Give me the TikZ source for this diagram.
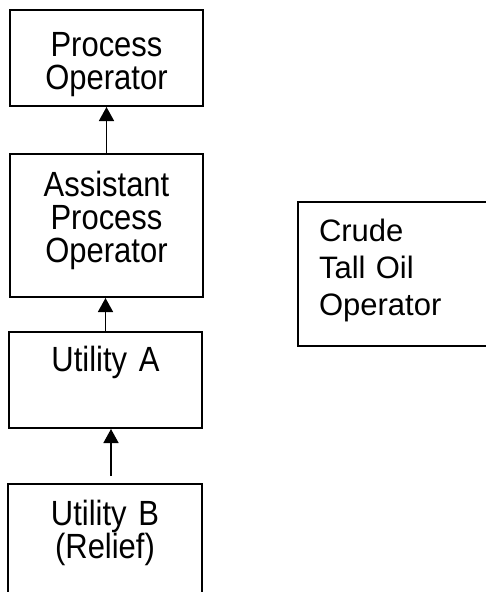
\documentclass[tikz,border=0pt]{standalone}
\usepackage{fontspec}
\setmainfont{Liberation Sans}
\newfontfamily\narrowfont[FakeStretch=0.885]{Liberation Sans}
\usetikzlibrary{arrows.meta}

\begin{document}
\begin{tikzpicture}[x=1pt,y=-1pt,>={Triangle[width=15pt,length=14pt]}]
      \tikzstyle{every node}=[draw,shape=rectangle,line width=2pt,inner sep=0pt];
      \tikzstyle{post}=[text width=193pt,align=center,font=\narrowfont\fontsize{35}{33}\selectfont];
      \useasboundingbox (0,0) rectangle (485,592);

        \path (106.5,58)  node[post,minimum height=96pt,text height=46pt,text depth=50pt] (procop) {Process\\Operator};
        \path (106.5,225.5) node[post,minimum height=143pt,text height=42.7pt,text depth=100.3pt] (asstop) {Assistant\\Process\\Operator};
        \path (105.5,380) node[post,minimum height=96pt,text height=39.7pt,text depth=56.3pt] (utila) {Utility A};
        \path (105,545) node[post,text width=194pt,minimum height=122pt,text height=41pt,text depth=81pt] (utilb) {Utility B\\(Relief)};
        \path (402,274) node[text width=166pt,inner xsep=21pt,align=left,minimum height=144pt,text height=39.7pt,text depth=104.3pt,font=\fontsize{31}{37}\selectfont] (crude) {Crude\\Tall Oil\\Operator};

        \coordinate (utilbtop) at ([xshift=6pt,yshift=7pt]utilb.north);

        \path[->,draw,line width=1.5pt] (asstop.north) -- (procop.south);
        \path[->,draw,line width=1.5pt] (utila.north) -- (utila.north |- asstop.south);
        \path[->,draw,line width=1.5pt] (utilbtop) -- (utilbtop |- utila.south);
    \end{tikzpicture}
\end{document}
